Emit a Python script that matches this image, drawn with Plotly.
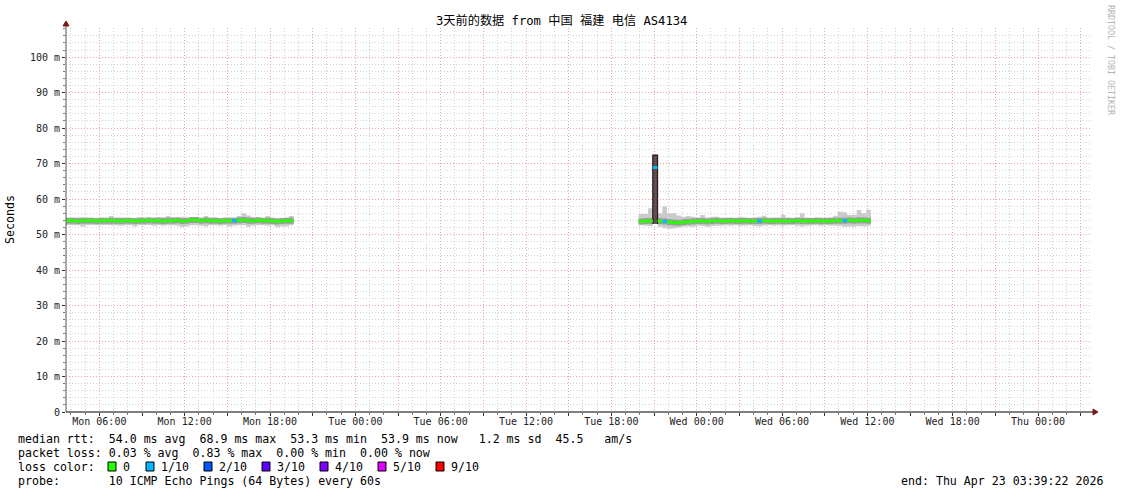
import plotly.graph_objects as go
import pandas as pd

# ---------------- data ----------------
range_start = "2026-04-20 03:39:22"
range_end = "2026-04-23 03:39:22"
step = "20min"

seg1_start = "2026-04-20 03:40:00"
seg1_median = [53.9, 53.9, 53.8, 53.9, 53.9, 53.9, 53.8, 53.9, 53.9, 53.9,
               53.9, 53.8, 53.9, 53.9, 53.8, 53.9, 53.9, 54.0, 53.9, 53.9,
               53.8, 53.9, 53.9, 54.0, 53.8, 53.9, 54.1, 54.1, 53.9, 54.0,
               53.9, 53.9, 53.8, 53.9, 53.9, 53.9, 54.0, 54.1, 53.9, 53.9,
               54.0, 53.9, 53.9, 53.8, 53.7, 53.8, 53.9, 53.9]
seg1_hi = [54.4, 54.5, 54.8, 54.7, 54.4, 54.5, 54.4, 54.4, 54.5, 55.2,
           54.5, 54.8, 54.4, 54.5, 54.4, 54.8, 54.5, 54.4, 54.6, 54.9,
           54.9, 55.2, 54.9, 54.5, 54.9, 54.6, 54.8, 54.9, 54.5, 55.2,
           54.6, 54.7, 54.5, 54.4, 54.6, 54.7, 55.2, 56.0, 55.4, 54.9,
           54.8, 54.5, 55.2, 54.7, 54.5, 54.4, 54.6, 55.2]
seg1_lo = [52.7, 52.6, 52.6, 52.3, 52.6, 52.7, 52.6, 52.6, 52.7, 52.6,
           52.6, 52.5, 52.6, 52.6, 52.3, 52.6, 52.6, 52.7, 52.5, 52.6,
           52.5, 52.6, 52.6, 52.5, 52.1, 52.3, 52.6, 52.6, 52.5, 52.3,
           52.6, 52.6, 52.5, 52.6, 52.3, 52.5, 52.6, 52.6, 52.2, 52.5,
           52.6, 52.6, 52.5, 52.6, 52.1, 52.3, 52.3, 52.6]
seg1_loss = [0, 0, 0, 0, 0, 0, 0, 0, 0, 0,
             0, 0, 0, 0, 0, 0, 0, 0, 0, 0,
             0, 0, 0, 0, 0, 0, 0, 0, 0, 0,
             0, 0, 0, 0, 0, 1, 0, 0, 0, 0,
             0, 0, 0, 0, 0, 0, 0, 0]

seg2_start = "2026-04-21 19:55:00"
seg2_median = [53.7, 53.8, 53.8, 68.9, 53.8, 53.7, 53.5, 53.4, 53.3, 53.5,
               53.6, 53.7, 53.8, 53.8, 53.7, 53.8, 53.9, 53.8, 53.8, 53.9,
               53.8, 53.8, 53.9, 53.8, 53.8, 53.8, 53.9, 53.8, 53.8, 53.9,
               53.8, 53.8, 53.8, 53.9, 53.8, 53.8, 53.8, 53.9, 53.8, 53.8,
               53.8, 53.9, 53.9, 53.9, 54.0, 53.9, 54.0, 54.0, 53.9]
seg2_hi = [55.8, 55.8, 57.4, 72.4, 56.0, 58.0, 56.0, 56.0, 55.4, 55.0,
           55.2, 55.0, 54.8, 55.5, 54.8, 55.0, 55.0, 54.7, 54.8, 54.6,
           54.7, 55.0, 54.6, 54.7, 54.8, 55.0, 55.3, 54.7, 54.8, 54.6,
           55.5, 54.8, 54.7, 54.8, 56.0, 54.8, 54.6, 54.7, 54.8, 54.7,
           54.9, 55.3, 56.4, 56.3, 55.5, 55.5, 56.9, 56.0, 57.0]
seg2_lo = [52.6, 52.5, 52.4, 53.0, 52.2, 51.8, 51.6, 51.7, 52.0, 52.2,
           52.3, 52.2, 52.5, 52.4, 52.2, 52.4, 52.5, 52.5, 52.6, 52.5,
           52.6, 52.5, 52.5, 52.6, 52.4, 52.3, 52.5, 52.6, 52.5, 52.6,
           52.5, 52.6, 52.6, 52.5, 52.3, 52.5, 52.6, 52.6, 52.5, 52.6,
           52.5, 52.5, 52.4, 52.2, 52.3, 52.2, 52.4, 52.3, 52.5]
seg2_loss = [0, 0, 0, 1, 0, 1, 0, 0, 0, 0,
             0, 0, 0, 0, 0, 0, 0, 0, 0, 0,
             0, 0, 0, 0, 0, 1, 0, 0, 0, 0,
             0, 0, 0, 0, 0, 0, 0, 0, 0, 0,
             0, 0, 0, 1, 0, 0, 0, 0, 0]

x_tick_times = ["2026-04-20 06:00", "2026-04-20 09:00", "2026-04-20 12:00", "2026-04-20 15:00",
                "2026-04-20 18:00", "2026-04-20 21:00", "2026-04-21 00:00", "2026-04-21 03:00",
                "2026-04-21 06:00", "2026-04-21 09:00", "2026-04-21 12:00", "2026-04-21 15:00",
                "2026-04-21 18:00", "2026-04-21 21:00", "2026-04-22 00:00", "2026-04-22 03:00",
                "2026-04-22 06:00", "2026-04-22 09:00", "2026-04-22 12:00", "2026-04-22 15:00",
                "2026-04-22 18:00", "2026-04-22 21:00", "2026-04-23 00:00", "2026-04-23 03:00"]
x_tick_labels = ["Mon 06:00", "", "Mon 12:00", "", "Mon 18:00", "", "Tue 00:00", "",
                 "Tue 06:00", "", "Tue 12:00", "", "Tue 18:00", "", "Wed 00:00", "",
                 "Wed 06:00", "", "Wed 12:00", "", "Wed 18:00", "", "Thu 00:00", ""]
y_tick_values = [0, 10, 20, 30, 40, 50, 60, 70, 80, 90, 100]
y_tick_labels = ["0", "10 m", "20 m", "30 m", "40 m", "50 m", "60 m", "70 m", "80 m", "90 m", "100 m"]
y_max = 108.2

loss_labels = ["0", "1/10", "2/10", "3/10", "4/10", "5/10", "9/10"]
loss_levels = [0, 1, 2, 3, 4, 5, 9]
loss_colors = ["#26ff00", "#00b8ff", "#0059ff", "#5e00ff", "#7e00ff", "#dd00ff", "#ff0000"]

title_text = "3天前的数据 from 中国 福建 电信 AS4134"
line_median = "median rtt:  54.0 ms avg  68.9 ms max  53.3 ms min  53.9 ms now   1.2 ms sd  45.5   am/s"
line_loss = "packet loss: 0.03 % avg  0.83 % max  0.00 % min  0.00 % now"
line_color = "loss color:"
line_probe = "probe:       10 ICMP Echo Pings (64 Bytes) every 60s"
line_end = "end: Thu Apr 23 03:39:22 2026"

# ---------------- geometry ----------------
W, H = 1121, 494
L, R, T, B = 66, 31, 28, 82
PW, PH = W - L - R, H - T - B
MONO = "DejaVu Sans Mono"


def px(x):
    return (x - L) / PW


def py(y):
    return (H - B - y) / PH


color_of = dict(zip(loss_levels, loss_colors))
fig = go.Figure()

segments = [(seg1_start, seg1_median, seg1_hi, seg1_lo, seg1_loss),
            (seg2_start, seg2_median, seg2_hi, seg2_lo, seg2_loss)]

# smoke
for start, med, hi, lo, loss in segments:
    t = list(pd.date_range(start, periods=len(med) + 1, freq=step))
    fig.add_trace(go.Scatter(x=t, y=lo + [lo[-1]], mode="lines",
                             line=dict(width=0, shape="hv"), hoverinfo="skip", showlegend=False))
    fig.add_trace(go.Scatter(x=t, y=hi + [hi[-1]], mode="lines", fill="tonexty",
                             fillcolor="#cbcbcb", line=dict(width=0, shape="hv"),
                             hoverinfo="skip", showlegend=False))

# darker smoke core around the median
for start, med, hi, lo, loss in segments:
    t = list(pd.date_range(start, periods=len(med) + 1, freq=step))
    xs, ys = [], []
    for i, m in enumerate(med):
        xs += [t[i], t[i + 1], None]
        ys += [m, m, None]
    fig.add_trace(go.Scatter(x=xs, y=ys, mode="lines", line=dict(width=6, color="#9a9a9a"),
                             hoverinfo="skip", showlegend=False))

# tall spikes drawn dark
for start, med, hi, lo, loss in segments:
    t = list(pd.date_range(start, periods=len(med) + 1, freq=step))
    for i in range(len(med)):
        if hi[i] - lo[i] > 10:
            fig.add_trace(go.Scatter(x=[t[i], t[i], t[i + 1], t[i + 1]],
                                     y=[lo[i], hi[i], hi[i], lo[i]], mode="lines",
                                     fill="toself", fillcolor="#5e5050",
                                     line=dict(width=1.2, color="#2b1818"),
                                     hoverinfo="skip", showlegend=False))

# median coloured by loss
for lvl in loss_levels:
    for start, med, hi, lo, loss in segments:
        t = list(pd.date_range(start, periods=len(med) + 1, freq=step))
        xs, ys = [], []
        for i, m in enumerate(med):
            if loss[i] == lvl:
                xs += [t[i], t[i + 1], None]
                ys += [m, m, None]
        if xs:
            fig.add_trace(go.Scatter(x=xs, y=ys, mode="lines",
                                     line=dict(width=3, color=color_of[lvl]),
                                     hoverinfo="skip", showlegend=False))

# ---------------- axes ----------------
fig.update_xaxes(type="date", range=[range_start, range_end],
                 tickvals=x_tick_times, ticktext=x_tick_labels,
                 showgrid=True, gridcolor="#f2a0a0", griddash="1px,2px", gridwidth=1,
                 ticks="outside", ticklen=3, tickcolor="#333", ticklabelstandoff=-3,
                 tickfont=dict(family=MONO, size=10, color="#222"),
                 minor=dict(dtick=3600000, tick0="2026-04-20 00:00", showgrid=True,
                            gridcolor="#d2d2d2", griddash="1px,2px", ticks="outside",
                            ticklen=2, tickcolor="#777"),
                 showline=False, zeroline=False, fixedrange=True)
fig.update_yaxes(range=[0, y_max], tickvals=y_tick_values, ticktext=y_tick_labels,
                 showgrid=True, gridcolor="#f2a0a0", griddash="1px,2px", gridwidth=1,
                 ticks="outside", ticklen=3, tickcolor="#333",
                 tickfont=dict(family=MONO, size=10, color="#222"),
                 minor=dict(dtick=2, showgrid=True, gridcolor="#d2d2d2", griddash="1px,2px",
                            ticks="outside", ticklen=2, tickcolor="#777"),
                 showline=False, zeroline=False, fixedrange=True)

shapes = []
# axis lines with arrows
shapes.append(dict(type="line", xref="paper", yref="paper", x0=px(66), x1=px(1094),
                   y0=py(412), y1=py(412), line=dict(color="#000", width=1), layer="above"))
shapes.append(dict(type="path", xref="paper", yref="paper",
                   path=f"M {px(1093)} {py(409)} L {px(1098)} {py(412)} L {px(1093)} {py(415)} Z",
                   fillcolor="#7a1a1a", line=dict(color="#7a1a1a", width=1), layer="above"))
shapes.append(dict(type="line", xref="paper", yref="paper", x0=px(66), x1=px(66),
                   y0=py(412), y1=py(24), line=dict(color="#555", width=1), layer="above"))
shapes.append(dict(type="path", xref="paper", yref="paper",
                   path=f"M {px(63)} {py(26)} L {px(66)} {py(21)} L {px(69)} {py(26)} Z",
                   fillcolor="#7a1a1a", line=dict(color="#7a1a1a", width=1), layer="above"))

# legend colour boxes
box_x = [112, 150, 208, 266, 324, 382, 440]
row_y = [438.5, 452.5, 466.5, 480.5]
for bx, col in zip(box_x, loss_colors):
    shapes.append(dict(type="rect", xref="paper", yref="paper",
                       x0=px(bx - 4), x1=px(bx + 4), y0=py(row_y[2] + 4.5), y1=py(row_y[2] - 4.5),
                       fillcolor=col, line=dict(color="#000", width=1)))

annotations = []


def txt(text, x, y, anchor="left", size=11.6, color="#000", angle=0, family=MONO):
    annotations.append(dict(text=text, x=px(x), y=py(y), xref="paper", yref="paper",
                            xanchor=anchor, yanchor="middle", showarrow=False,
                            textangle=angle, font=dict(family=family, size=size, color=color)))


txt(title_text, 561, 21, anchor="center", size=12.2, family="DejaVu Sans Mono, Noto Sans CJK SC")
txt("Seconds", 10, 220, anchor="center", angle=-90)
txt("RRDTOOL / TOBI OETIKER", 1111, 60, anchor="center", size=8.3, color="#b4b4b4", angle=90)
txt(line_median, 16, row_y[0])
txt(line_loss, 16, row_y[1])
txt(line_color, 16, row_y[2])
for bx, lab in zip(box_x, loss_labels):
    txt(lab, bx + 9, row_y[2])
txt(line_probe, 16, row_y[3])
txt(line_end, 1105, row_y[3], anchor="right")

fig.update_layout(width=W, height=H, margin=dict(l=L, r=R, t=T, b=B, pad=0),
                  paper_bgcolor="#ffffff", plot_bgcolor="#ffffff",
                  shapes=shapes, annotations=annotations, showlegend=False)

fig.write_html("out.html", config={"displayModeBar": False},
               post_script="document.body.style.margin='0px';")
